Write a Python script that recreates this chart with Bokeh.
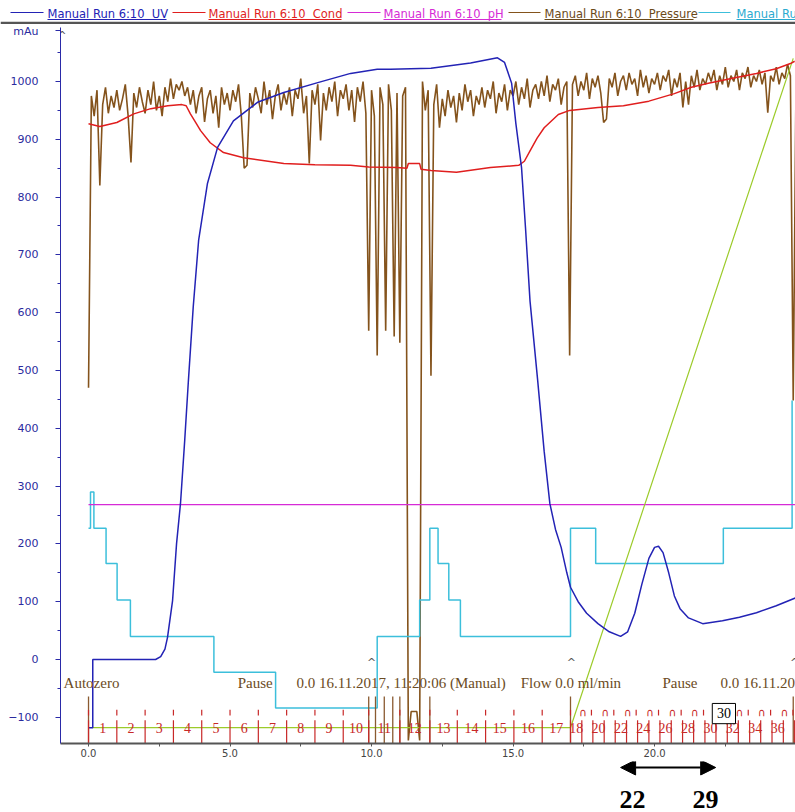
from bokeh.plotting import figure
from bokeh.models import Range1d, FixedTicker, Arrow, NormalHead, ColumnDataSource, NumeralTickFormatter
from bokeh.layouts import column
from bokeh.embed import file_html
from bokeh.resources import INLINE
from bokeh.core.properties import value

# ---------------- data ----------------
uv_t = [0.0, 0.15, 0.15, 2.37, 2.55, 2.7, 2.79, 2.97, 3.11, 3.25,
        3.4, 3.53, 3.7, 3.89, 4.2, 4.56, 5.12, 5.97, 6.9, 8.1,
        9.26, 10.2, 10.67, 12.1, 13.5, 14.45, 14.7, 14.95, 15.1, 15.3,
        15.44, 15.6, 15.87, 16.1, 16.3, 16.5, 16.7, 16.9, 17.03, 17.3,
        17.6, 18.0, 18.4, 18.8, 19.05, 19.3, 19.55, 19.8, 20.0, 20.14,
        20.3, 20.5, 20.7, 20.9, 21.2, 21.7, 22.4, 23.0, 23.6, 24.3, 25.0]
uv_v = [-118, -118, 0, 0, 5, 18, 38, 102, 200, 270,
        380, 483, 610, 725, 823, 886, 932, 964, 981, 998,
        1014, 1021, 1021, 1023, 1032, 1041, 1033, 997, 927, 851,
        747, 620, 483, 360, 270, 225, 194, 150, 125, 100,
        80, 62, 48, 40, 48, 80, 130, 175, 194, 196,
        185, 150, 110, 88, 72, 62, 67, 73, 81, 93, 107]

cond_t = [0.0, 0.4, 1.0, 1.6, 2.2, 2.8, 3.3, 3.45, 3.6, 3.8,
          3.96, 4.3, 4.77, 5.48, 6.9, 8.0, 9.26, 9.9, 10.9, 11.25,
          11.3, 11.7, 11.75, 12.1, 13.0, 14.2, 15.2, 15.4, 15.6, 15.85,
          16.1, 16.6, 17.0, 18.0, 18.9, 19.8, 20.7, 21.3, 21.9, 22.8,
          23.6, 24.3, 24.8, 24.95]
cond_v = [927, 922, 929, 944, 953, 958, 960, 958, 944, 928,
          915, 894, 877, 868, 858, 856, 855, 852, 851, 850,
          858, 858, 848, 846, 843, 851, 855, 862, 880, 902,
          920, 943, 950, 955, 958, 966, 979, 990, 997, 1006,
          1014, 1022, 1031, 1035]

ph_t = [0.0, 25.0]
ph_v = [268, 268]

# pressure, one reading every 0.1 min from 0.0 to 25.0
pressure_v = [
    470, 975, 940, 985, 820, 960, 990, 945, 975, 955,
    985, 950, 970, 995, 940, 860, 980, 955, 990, 965,
    945, 985, 960, 1000, 950, 975, 940, 990, 965, 1005,
    970, 995, 985, 1000, 975, 990, 960, 985, 945, 975,
    990, 930, 970, 985, 945, 975, 920, 990, 960, 980,
    950, 985, 965, 995, 940, 850, 855, 980, 955, 990,
    970, 945, 1000, 960, 985, 935, 975, 995, 950, 980,
    960, 990, 940, 985, 970, 1005, 945, 975, 858, 985,
    960, 995, 898, 980, 950, 990, 965, 1000, 940, 985,
    970, 995, 950, 985, 930, 990, 965, 1000, 945, 569,
    985, 940, 526, 990, 960, 569, 995, 950, 559, 980,
    548, 975, 990, -140, -90, -90, -90, -140, 1000, 950,
    985, 491, 960, 995, 920, 970, 940, 985, 955, 975,
    929, 980, 950, 995, 965, 985, 940, 975, 960, 990,
    955, 985, 970, 1000, 945, 980, 965, 995, 950, 985,
    975, 1000, 960, 990, 970, 1005, 955, 985, 995, 970,
    1000, 975, 1010, 965, 995, 985, 1005, 960, 990, 1000,
    526, 995, 1010, 975, 1000, 985, 1015, 970, 1005, 990,
    1010, 980, 929, 935, 1005, 990, 1015, 975, 1000, 1010,
    985, 1015, 995, 1005, 975, 1020, 990, 1010, 980, 1005,
    995, 1015, 985, 1010, 1000, 1020, 975, 1005, 990, 1015,
    955, 1000, 960, 1010, 990, 1020, 985, 1005, 995, 1015,
    1000, 1020, 985, 1010, 995, 1025, 990, 1010, 1000, 1020,
    985, 1015, 1005, 1025, 990, 1010, 1000, 1020, 995, 1015,
    946, 1010, 1000, 1025, 995, 1015, 1005, 1030, 1010, 448,
    1010]
pressure_t = [round(0.1 * i, 1) for i in range(len(pressure_v))]

# stepped cyan trace (change points)
step_t = [0.0, 0.07, 0.19, 0.62, 1.01, 1.48, 4.43, 6.61, 10.2, 11.7,
          12.06, 12.35, 12.73, 13.14, 17.03, 17.92, 22.43, 24.86]
step_v = [227, 290, 227, 166, 103, 40, -22, -84, 40, 103,
          227, 166, 103, 40, 227, 166, 227, 448]

conc_t = [0.15, 17.03, 24.9]
conc_v = [-118, -118, 1040]

frac_bounds = [0.0, 1.0, 2.0, 3.0, 4.0, 5.0, 6.0, 7.0, 8.0, 9.0,
               9.9, 11.0, 12.06, 13.03, 14.03, 15.03, 16.03, 17.03,
               17.43, 17.82, 18.22, 18.61, 19.01, 19.4, 19.8, 20.19,
               20.59, 20.99, 21.38, 21.78, 22.17, 22.57, 22.96, 23.36,
               23.75, 24.15, 24.55, 24.94]

event_t = [0.0, 9.9, 10.14, 10.45, 10.75, 11.0, 12.06, 17.03, 24.9]
event_text = ["Autozero", "Pause", "0.0 16.11.2017, 11:20:06 (Manual)",
              "Flow 0.0 ml/min", "Pause", "0.0 16.11.2017, 11:20:06 (Manual)"]
event_text_t = [-0.88, 5.27, 7.35, 15.27, 20.28, 22.33]
caret_t = [10.0, 17.06, 24.95]

marked_fraction = "30"
marked_fraction_t = 22.45

arrow_from = 18.8
arrow_to = 22.16
arrow_labels = ["22", "29"]
arrow_label_t = [19.22, 21.8]

NB = "\u00a0"
legend_labels = ["Manual Run 6:10" + NB + " UV", "Manual Run 6:10" + NB + " Cond",
                 "Manual Run 6:10" + NB + " pH", "Manual Run 6:10" + NB + " Pressure", "Manual Ru"]

# ---------------- styles ----------------
UV_C = "#2323b5"
COND_C = "#e01e1e"
PH_C = "#d62bd6"
PRES_C = "#84531c"
CYAN_C = "#3cbfdb"
CONC_C = "#9ccb2a"
FRAC_C = "#c82828"
EVT_C = "#6b4b23"
AX_BLUE = "#2a2aa8"

W = 795

# ---------------- legend strip ----------------
leg = figure(width=W, height=24, x_range=Range1d(0, W), y_range=Range1d(24, 0),
             toolbar_location=None, output_backend="svg", x_axis_location=None,
             y_axis_location=None, min_border=0, outline_line_color=None)
try:
    leg.frame_align = False
except Exception:
    pass
leg.grid.visible = False
leg_colors = [UV_C, COND_C, PH_C, "#6b4a1a", "#2aaad0"]
leg_line_colors = [UV_C, COND_C, PH_C, PRES_C, CYAN_C]
leg_x0 = [10, 172, 347, 508, 698]
leg_x1 = [43, 205, 380, 540, 730]
leg_tx = [47, 208, 383, 544, 736]
leg_tx1 = [166, 341, 501, 693, 795]
leg_src = ColumnDataSource(dict(x0=leg_x0, x1=leg_x1, tx=leg_tx, tx1=leg_tx1,
                                lc=leg_line_colors, tc=leg_colors, label=legend_labels,
                                ym=[12] * 5, yu=[19] * 5, yt=[13] * 5))
leg.segment(x0="x0", y0="ym", x1="x1", y1="ym", line_color="lc", line_width=1.2, source=leg_src)
leg.segment(x0="tx", y0="yu", x1="tx1", y1="yu", line_color="tc", line_width=1, source=leg_src)
leg.text(x="tx", y="yt", text="label", text_color="tc", text_font=value("DejaVu Sans"),
         text_font_size="11.5px", text_baseline="middle", text_align="left", source=leg_src)
leg.segment(x0=[0], y0=[22.5], x1=[W], y1=[22.5], line_color="#555555", line_width=2.5)

# ---------------- main chart ----------------
p = figure(width=W, height=737, x_range=Range1d(-0.99, 24.98), y_range=Range1d(-145.3, 1093.4),
           toolbar_location=None, output_backend="svg", min_border_left=60, min_border_right=0,
           min_border_top=3, min_border_bottom=18, outline_line_color=None)
p.grid.visible = False

yax = p.yaxis[0]
yax.ticker = FixedTicker(ticks=[-100, 0, 100, 200, 300, 400, 500, 600, 700, 800, 900, 1000, 1088],
                         minor_ticks=[-150, -50, 50, 150, 250, 350, 450, 550, 650, 750, 850, 950, 1050])
yax.major_label_overrides = {1088: "mAu"}
yax.axis_line_color = AX_BLUE
yax.major_tick_line_color = AX_BLUE
yax.minor_tick_line_color = AX_BLUE
yax.major_tick_out = 5
yax.major_tick_in = 0
yax.minor_tick_out = 3
yax.minor_tick_in = 0
yax.major_label_standoff = 17
yax.major_label_text_color = "#2a2a9e"
yax.major_label_text_font = "DejaVu Sans"
yax.major_label_text_font_size = "11px"

xax = p.xaxis[0]
xax.ticker = FixedTicker(ticks=[0, 5, 10, 15, 20, 25], minor_ticks=[2.5, 7.5, 12.5, 17.5, 22.5])
xax.formatter = NumeralTickFormatter(format="0.0")
xax.axis_line_color = "#555555"
xax.axis_line_width = 2
xax.major_tick_line_color = "#555555"
xax.minor_tick_line_color = "#555555"
xax.major_tick_out = 3
xax.major_tick_in = 0
xax.minor_tick_out = 3
xax.minor_tick_in = 0
xax.major_label_standoff = 2
xax.major_label_text_color = "#444444"
xax.major_label_text_font = "DejaVu Sans"
xax.major_label_text_font_size = "10px"

# curves
p.line(pressure_t, pressure_v, line_color=PRES_C, line_width=1.6)
p.step(step_t, step_v, mode="after", line_color=CYAN_C, line_width=1.5)
p.line(ph_t, ph_v, line_color=PH_C, line_width=1.2)
p.line(conc_t, conc_v, line_color=CONC_C, line_width=1.2)
p.line(cond_t, cond_v, line_color=COND_C, line_width=1.5)
p.line(uv_t, uv_v, line_color=UV_C, line_width=1.5)

# event marks
p.segment(x0=event_t, y0=[-145] * len(event_t), x1=event_t, y1=[-64] * len(event_t),
          line_color="#8a5a30", line_width=1.3)

# fraction marks
low_x, up_x, cap_x = [], [], []
for i, b in enumerate(frac_bounds):
    low_x.append(b)
    k = i - 17
    if k > 0 and k % 2 == 1:
        cap_x.append(b + 0.05)
    elif k > 0:
        up_x.append(b - 0.05)
    else:
        up_x.append(b)
p.segment(x0=low_x, y0=[-145] * len(low_x), x1=low_x, y1=[-105] * len(low_x),
          line_color=FRAC_C, line_width=1.2)
p.segment(x0=up_x, y0=[-97] * len(up_x), x1=up_x, y1=[-87] * len(up_x),
          line_color=FRAC_C, line_width=1.2)
p.text(x=cap_x, y=[-91] * len(cap_x), text=["\u2229"] * len(cap_x), text_color=FRAC_C,
       text_font=value("DejaVu Sans"), text_font_size="11px", text_align="center",
       text_baseline="middle")

frac_x, frac_txt = [], []
for i in range(len(frac_bounds) - 1):
    n = i + 1
    if n <= 17 or n % 2 == 0:
        frac_x.append((frac_bounds[i] + frac_bounds[i + 1]) / 2)
        frac_txt.append(str(n))
p.text(x=frac_x, y=[-119] * len(frac_x), text=frac_txt, text_color=FRAC_C,
       text_font=value("Liberation Serif"), text_font_size="14px", text_align="center",
       text_baseline="middle")

# boxed fraction marker
p.quad(left=[marked_fraction_t - 0.41], right=[marked_fraction_t + 0.41], bottom=[-111], top=[-76],
       fill_color="white", line_color="black", line_width=1)
p.text(x=[marked_fraction_t], y=[-93], text=[marked_fraction], text_color="black",
       text_font=value("Liberation Serif"), text_font_size="14px", text_align="center",
       text_baseline="middle")

# event texts and carets
p.text(x=event_text_t, y=[-40] * len(event_text_t), text=event_text, text_color=EVT_C,
       text_font=value("Liberation Serif"), text_font_size="15px", text_align="left",
       text_baseline="middle")
p.text(x=caret_t, y=[-5] * len(caret_t), text=["^"] * len(caret_t), text_color="#555555",
       text_font=value("DejaVu Sans"), text_font_size="11px", text_align="center",
       text_baseline="middle")
p.text(x=[-0.93], y=[1080], text=["^"], text_color="#555555",
       text_font=value("DejaVu Sans"), text_font_size="10px", text_align="center",
       text_baseline="middle")

# ---------------- annotation strip below ----------------
bot = figure(width=W, height=51, x_range=p.x_range, y_range=Range1d(0, 51),
             toolbar_location=None, output_backend="svg", x_axis_location=None,
             y_axis_location=None, min_border_left=60, min_border_right=0,
             min_border_top=0, min_border_bottom=0, outline_line_color=None)
bot.grid.visible = False
bot.add_layout(Arrow(start=NormalHead(size=15, fill_color="black", line_color="black"),
                     end=NormalHead(size=15, fill_color="black", line_color="black"),
                     x_start=arrow_from, y_start=45, x_end=arrow_to, y_end=45,
                     line_color="black", line_width=2))
bot.text(x=arrow_label_t, y=[13, 13], text=arrow_labels, text_color="black",
         text_font=value("Liberation Serif"), text_font_style="bold", text_font_size="26px",
         text_align="center", text_baseline="middle")

layout = column(leg, p, bot, spacing=0)
open("out.html", "w").write(file_html(layout, INLINE, "chart"))
